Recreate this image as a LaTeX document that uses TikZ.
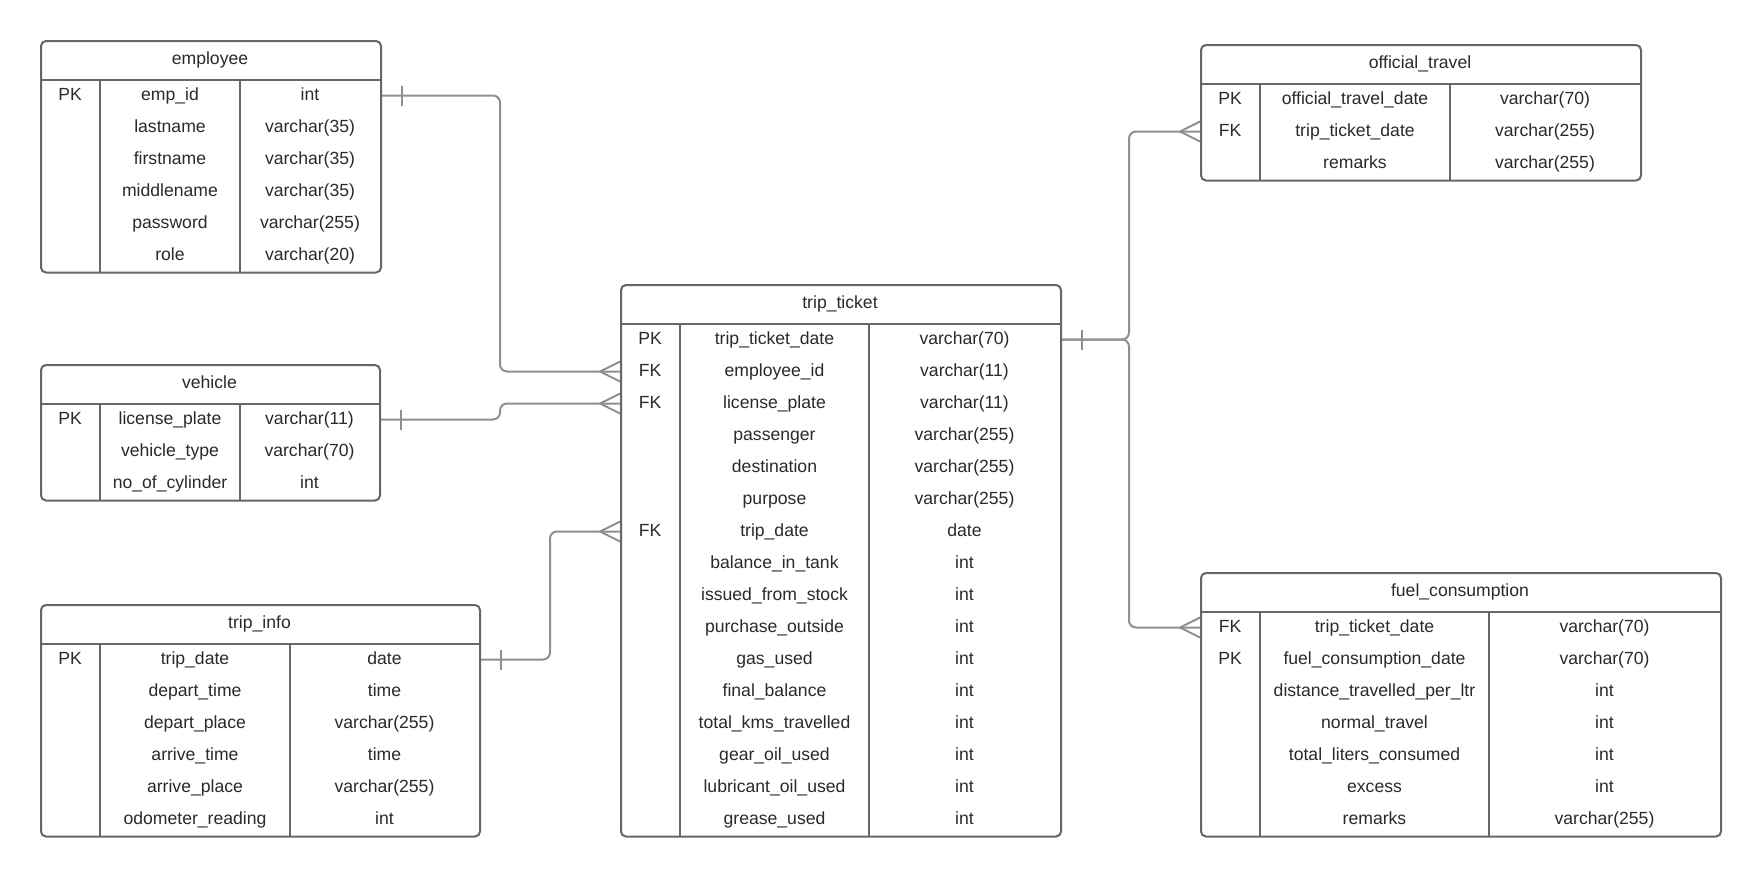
\documentclass[tikz,border=0pt]{standalone}
\usepackage{fontspec}
\setmainfont{Liberation Sans}
\definecolor{boxline}{HTML}{666666}
\definecolor{linkline}{HTML}{8F8F8F}
\definecolor{inkcol}{HTML}{2A2A2A}
\tikzset{
  tablebox/.style={draw=boxline, line width=2pt, rounded corners=5pt, fill=white, inner sep=0pt, anchor=north west},
  tablerule/.style={draw=boxline, line width=2pt},
  cell/.style={anchor=base, inner sep=0pt, text=inkcol, font=\fontsize{17.6}{21}\selectfont},
  conn/.style={draw=linkline, line width=2pt, rounded corners=7pt},
  crowsfoot/.pic={\draw[linkline, line width=2pt] (-20,0) -- (0,-10) (-20,0) -- (0,10);},
  onebar/.pic={\draw[linkline, line width=2pt] (20,-10) -- (20,10);},
}
% #1 name, #2 left, #3 right, #4 top, #5 key|field divider, #6 field|type divider,
% #7 title, #8 number of rows, #9 rows as key/field/type
\newcommand\erdtable[9]{%
  \pgfmathsetmacro\hdrY{#4+39.5}%
  \pgfmathsetmacro\botY{\hdrY+32*#8}%
  \pgfmathsetmacro\boxW{#3-#2}%
  \pgfmathsetmacro\boxH{\botY-#4}%
  \node[tablebox, minimum width=\boxW pt, minimum height=\boxH pt] (#1) at (#2,#4) {};
  \node[cell] (#1-title) at ({(#2+#3)/2},{(#4+\hdrY)/2+4.5}) {#7};
  \draw[tablerule] (#2,\hdrY) -- (#3,\hdrY);
  \draw[tablerule] (#5,\hdrY) -- (#5,\botY);
  \draw[tablerule] (#6,\hdrY) -- (#6,\botY);
  \foreach \colk/\colf/\colt [count=\i] in {#9} {
    \pgfmathsetmacro\rowY{\hdrY+16+32*(\i-1)}
    \coordinate (#1-r\i) at (#2,\rowY);
    \node[cell] (#1-k\i) at ({(#2+#5)/2},\rowY+4.5) {\colk};
    \node[cell] (#1-f\i) at ({(#5+#6)/2},\rowY+4.5) {\colf};
    \node[cell] (#1-t\i) at ({(#6+#3)/2},\rowY+4.5) {\colt};
  }%
}
\begin{document}
\begin{tikzpicture}[x=1pt,y=-1pt]
\fill[white] (0,0) rectangle (1760,876);
\useasboundingbox (0,0) rectangle (1760,876);

\erdtable{employee}{40}{380}{40}{100}{240}{employee}{6}{%
  PK/emp\_id/int, /lastname/varchar(35), /firstname/varchar(35),
  /middlename/varchar(35), /password/varchar(255), /role/varchar(20)}

\erdtable{vehicle}{40}{379}{364}{100}{240}{vehicle}{3}{%
  PK/license\_plate/varchar(11), /vehicle\_type/varchar(70), /no\_of\_cylinder/int}

\erdtable{tripinfo}{40}{479}{604}{100}{290}{trip\_info}{6}{%
  PK/trip\_date/date, /depart\_time/time, /depart\_place/varchar(255),
  /arrive\_time/time, /arrive\_place/varchar(255), /odometer\_reading/int}

\erdtable{tripticket}{620}{1060}{284}{680}{869}{trip\_ticket}{16}{%
  PK/trip\_ticket\_date/varchar(70), FK/employee\_id/varchar(11),
  FK/license\_plate/varchar(11), /passenger/varchar(255),
  /destination/varchar(255), /purpose/varchar(255), FK/trip\_date/date,
  /balance\_in\_tank/int, /issued\_from\_stock/int, /purchase\_outside/int,
  /gas\_used/int, /final\_balance/int, /total\_kms\_travelled/int,
  /gear\_oil\_used/int, /lubricant\_oil\_used/int, /grease\_used/int}

\erdtable{officialtravel}{1200}{1640}{44}{1260}{1450}{official\_travel}{3}{%
  PK/official\_travel\_date/varchar(70), FK/trip\_ticket\_date/varchar(255),
  /remarks/varchar(255)}

\erdtable{fuelconsumption}{1200}{1720}{572}{1260}{1489}{fuel\_consumption}{7}{%
  FK/trip\_ticket\_date/varchar(70), PK/fuel\_consumption\_date/varchar(70),
  /distance\_travelled\_per\_ltr/int, /normal\_travel/int,
  /total\_liters\_consumed/int, /excess/int, /remarks/varchar(255)}

% routing columns of the relationship lines
\coordinate (bendA) at (500,0);
\coordinate (bendB) at (550,0);
\coordinate (bendC) at (1129,0);

\draw[conn] (employee.east |- employee-r1) -| (bendA |- tripticket-r2) -- (tripticket.west |- tripticket-r2);
\draw[conn] (vehicle.east |- vehicle-r1) -| (bendA |- tripticket-r3) -- (tripticket.west |- tripticket-r3);
\draw[conn] (tripinfo.east |- tripinfo-r1) -| (bendB |- tripticket-r7) -- (tripticket.west |- tripticket-r7);
\draw[conn] (tripticket.east |- tripticket-r1) -| (bendC |- officialtravel-r2) -- (officialtravel.west |- officialtravel-r2);
\draw[conn] (tripticket.east |- tripticket-r1) -| (bendC |- fuelconsumption-r1) -- (fuelconsumption.west |- fuelconsumption-r1);

% cardinality marks
\pic at (employee.east |- employee-r1) {onebar};
\pic at (vehicle.east |- vehicle-r1) {onebar};
\pic at (tripinfo.east |- tripinfo-r1) {onebar};
\pic at (tripticket.east |- tripticket-r1) {onebar};
\pic at (tripticket.west |- tripticket-r2) {crowsfoot};
\pic at (tripticket.west |- tripticket-r3) {crowsfoot};
\pic at (tripticket.west |- tripticket-r7) {crowsfoot};
\pic at (officialtravel.west |- officialtravel-r2) {crowsfoot};
\pic at (fuelconsumption.west |- fuelconsumption-r1) {crowsfoot};
\end{tikzpicture}
\end{document}
